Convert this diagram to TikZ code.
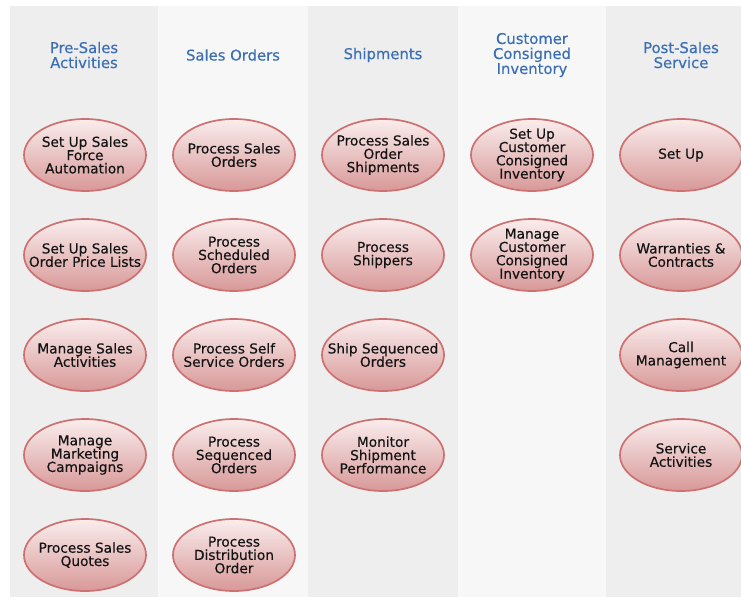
\documentclass[tikz,border=0pt]{standalone}
\usepackage{fontspec}
\setmainfont{DejaVu Sans}
\newfontfamily\taskfont[FakeBold=0.4]{DejaVu Sans}
\usetikzlibrary{shapes.geometric}
\definecolor{laneA}{HTML}{EEEEEE}
\definecolor{laneB}{HTML}{F7F7F7}
\definecolor{ttl}{HTML}{3A6EB5}
\definecolor{ovtop}{HTML}{FAEDED}
\definecolor{ovbot}{HTML}{D89898}
\definecolor{ovline}{HTML}{CD7070}
\definecolor{txt}{HTML}{141414}
\tikzset{
  title/.style={text=ttl, align=center, inner sep=0pt, font=\taskfont\fontsize{14.8}{15}\selectfont},
  task/.style={ellipse, draw=ovline, line width=1.7pt, top color=ovtop, bottom color=ovbot,
    minimum width=122pt, minimum height=72pt, inner xsep=-16pt, inner ysep=-5pt,
    align=center, text=txt, font=\taskfont\fontsize{13.7}{13.3}\selectfont},
}
\begin{document}
\begin{tikzpicture}[x=1pt,y=-1pt]
\useasboundingbox (0,0) rectangle (741,600);
\fill[white] (0,0) rectangle (741,600);
\clip (0,0) rectangle (741,600);
% lanes
\fill[laneA] (10,6) rectangle (158,597);
\fill[laneB] (158,6) rectangle (308,597);
\fill[laneA] (308,6) rectangle (458,597);
\fill[laneB] (458,6) rectangle (606,597);
\fill[laneA] (606,6) rectangle (741,597);
% titles
\node[title] (t1) at (84,55) {Pre-Sales\\Activities};
\node[title] (t2) at (233,55) {Sales Orders};
\node[title] (t3) at (383,55) {Shipments};
\node[title] (t4) at (532,55) {Customer\\Consigned\\Inventory};
\node[title] (t5) at (681,55) {Post-Sales\\Service};
% column 1
\node[task] (a1) at (85,155) {Set Up Sales\\Force\\Automation};
\node[task] (a2) at (85,255) {Set Up Sales\\Order Price Lists};
\node[task] (a3) at (85,355) {Manage Sales\\Activities};
\node[task] (a4) at (85,455) {Manage\\Marketing\\Campaigns};
\node[task] (a5) at (85,555) {Process Sales\\Quotes};
% column 2
\node[task] (b1) at (234,155) {Process Sales\\Orders};
\node[task] (b2) at (234,255) {Process\\Scheduled\\Orders};
\node[task] (b3) at (234,355) {Process Self\\Service Orders};
\node[task] (b4) at (234,455) {Process\\Sequenced\\Orders};
\node[task] (b5) at (234,555) {Process\\Distribution\\Order};
% column 3
\node[task] (c1) at (383,155) {Process Sales\\Order\\Shipments};
\node[task] (c2) at (383,255) {Process\\Shippers};
\node[task] (c3) at (383,355) {Ship Sequenced\\Orders};
\node[task] (c4) at (383,455) {Monitor\\Shipment\\Performance};
% column 4
\node[task] (d1) at (532,155) {Set Up\\Customer\\Consigned\\Inventory};
\node[task] (d2) at (532,255) {Manage\\Customer\\Consigned\\Inventory};
% column 5
\node[task] (e1) at (681,155) {Set Up};
\node[task] (e2) at (681,255) {Warranties \&\\Contracts};
\node[task] (e3) at (681,355) {Call\\Management};
\node[task] (e4) at (681,455) {Service\\Activities};
\end{tikzpicture}
\end{document}
